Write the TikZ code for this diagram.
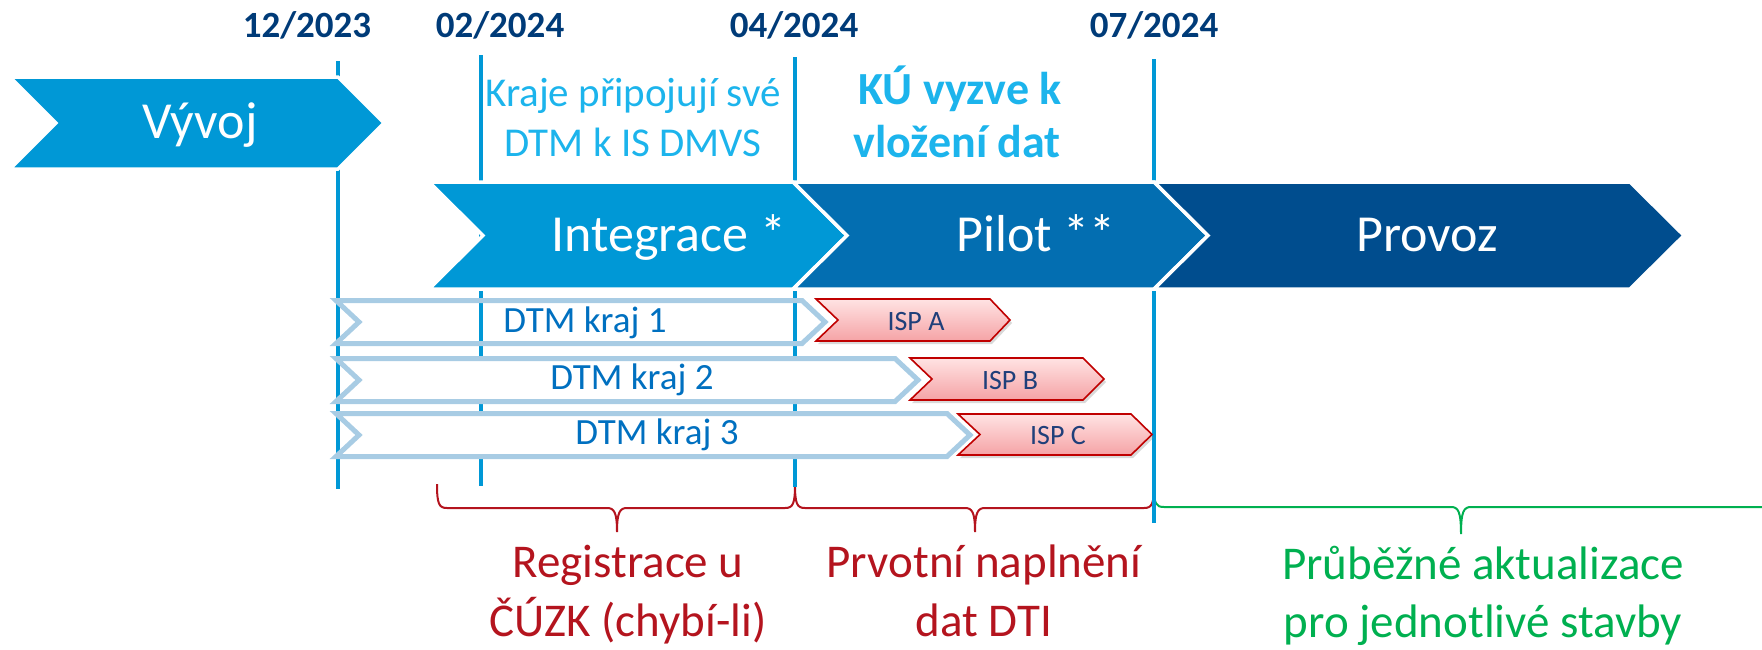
\documentclass[tikz,border=0pt]{standalone}
\usepackage{fontspec}
\setmainfont{Carlito}
\usetikzlibrary{shadows}

\definecolor{devblue}{HTML}{0098D6}
\definecolor{pilotblue}{HTML}{036EB1}
\definecolor{provblue}{HTML}{004D8E}
\definecolor{datenavy}{HTML}{003B78}
\definecolor{noteblue}{HTML}{1CB4EC}
\definecolor{dtmtext}{HTML}{0070C0}
\definecolor{dtmline}{HTML}{A8CCE4}
\definecolor{ispred}{HTML}{C00000}
\definecolor{isptop}{HTML}{FFE3E3}
\definecolor{ispbot}{HTML}{F5A3A6}
\definecolor{isptext}{HTML}{1F3F7A}
\definecolor{bracered}{HTML}{B4141E}
\definecolor{bracegreen}{HTML}{00B050}

\begin{document}
\begin{tikzpicture}[x=1pt,y=-1pt,
  milestone/.style={draw=devblue, line width=4pt},
  phase/.style={draw=white, line width=3.5pt, line join=miter},
  phasetext/.style={text=white, font=\fontsize{52}{62}\selectfont, anchor=base, inner sep=0pt},
  datelabel/.style={text=datenavy, font=\bfseries\fontsize{37}{44}\selectfont, anchor=base, inner sep=0pt},
  notetext/.style={text=noteblue, font=\fontsize{41}{50}\selectfont, anchor=base, inner sep=0pt},
  notebold/.style={text=noteblue, font=\bfseries\fontsize{46}{55}\selectfont, anchor=base, inner sep=0pt},
  dtmbox/.style={draw=dtmline, line width=5pt, line join=miter},
  dtmlabel/.style={text=dtmtext, font=\fontsize{37}{44}\selectfont, anchor=base, inner sep=0pt},
  ispbox/.style={draw=ispred, line width=1.6pt, line join=miter, top color=isptop, bottom color=ispbot,
    drop shadow={opacity=0.3, shadow xshift=2pt, shadow yshift=-3pt}},
  isplabel/.style={text=isptext, font=\fontsize{28}{34}\selectfont, anchor=base, inner sep=0pt},
  bracepath/.style={line width=2pt},
  redtext/.style={text=bracered, font=\fontsize{47}{58}\selectfont, anchor=base, inner sep=0pt},
  greentext/.style={text=bracegreen, font=\fontsize{47}{58}\selectfont, anchor=base, inner sep=0pt}
]
\useasboundingbox (0,0) rectangle (1762,649);

% ---- braces under the timeline ----
\draw[bracepath, bracered] (437,484) .. controls (437,504) and (439,508) .. (447,508) -- (607,508)
  .. controls (614,508) and (617,512) .. (617,532) .. controls (617,512) and (620,508) .. (627,508)
  -- (785,508) .. controls (793,508) and (795,504) .. (795,484);
\draw[bracepath, bracered] (795,484) .. controls (795,504) and (797,508) .. (805,508) -- (965,508)
  .. controls (972,508) and (975,512) .. (975,532) .. controls (975,512) and (978,508) .. (985,508)
  -- (1144,508) .. controls (1152,508) and (1154,504) .. (1154,484);
\draw[bracepath, bracegreen] (1154,487) .. controls (1154,504) and (1156,507) .. (1164,507) -- (1451,507)
  .. controls (1458,507) and (1461,511) .. (1461,534) .. controls (1461,511) and (1464,507) .. (1471,507)
  -- (1762,507);

% ---- milestone lines ----
\coordinate (m1a) at (338,61);  \coordinate (m1b) at (338,489);
\coordinate (m2a) at (481,55);  \coordinate (m2b) at (481,486);
\coordinate (m3a) at (795,57);  \coordinate (m3b) at (795,487);
\coordinate (m4a) at (1154,59); \coordinate (m4b) at (1154,523);
\draw[milestone] (m1a) -- (m1b);
\draw[milestone] (m2a) -- (m2b);
\draw[milestone] (m3a) -- (m3b);
\draw[milestone] (m4a) -- (m4b);

% ---- date labels ----
\node[datelabel] (d1) at (307,37) {12/2023};
\node[datelabel] (d2) at (500,37) {02/2024};
\node[datelabel] (d3) at (794,37) {04/2024};
\node[datelabel] (d4) at (1154,37) {07/2024};

% ---- phase chevrons ----
\path[phase, fill=devblue] (10,77) -- (338,77) -- (384,123) -- (338,169) -- (10,169) -- (56,123) -- cycle;
\path[phase, fill=devblue] (429,182) -- (793,182) -- (847,235.5) -- (793,289) -- (429,289) -- (483,235.5) -- cycle;
\path[phase, fill=pilotblue] (793,182) -- (1154,182) -- (1208,235.5) -- (1154,289) -- (793,289) -- (847,235.5) -- cycle;
\path[phase, fill=provblue] (1154,182) -- (1630,182) -- (1684,235.5) -- (1630,289) -- (1154,289) -- (1208,235.5) -- cycle;

\node[phasetext] (vyvoj) at (200,138) {Vývoj};
\node[phasetext] (integrace) at (669,251) {Integrace *};
\node[phasetext] (pilot) at (1036,251) {Pilot **};
\node[phasetext] (provoz) at (1427,251) {Provoz};

% ---- notes above the phases ----
\node[notetext] (kraje1) at (633,106) {Kraje připojují své};
\node[notetext] (kraje2) at (633,156) {DTM k IS DMVS};
\node[notebold] (ku1) at (960,104) {KÚ vyzve k};
\node[notebold] (ku2) at (957,157) {vložení dat};

% ---- regional DTM bars ----
\path[dtmbox] (336,300.5) -- (802,300.5) -- (825,322) -- (802,343.5) -- (336,343.5) -- (359,322) -- cycle;
\path[dtmbox, fill=white] (336,358.5) -- (895,358.5) -- (918,380) -- (895,401.5) -- (336,401.5) -- (359,380) -- cycle;
\path[dtmbox, fill=white] (336,413.5) -- (947,413.5) -- (970,435) -- (947,456.5) -- (336,456.5) -- (359,435) -- cycle;
\node[dtmlabel] (dtm1) at (585,332) {DTM kraj 1};
\node[dtmlabel] (dtm2) at (632,389) {DTM kraj 2};
\node[dtmlabel] (dtm3) at (657,444) {DTM kraj 3};

% ---- ISP chevrons ----
\path[ispbox] (816,299) -- (990,299) -- (1010,320) -- (990,341) -- (816,341) -- (838,320) -- cycle;
\path[ispbox] (910,358) -- (1083,358) -- (1104,379) -- (1083,400) -- (910,400) -- (932,379) -- cycle;
\path[ispbox] (958,414) -- (1131,414) -- (1152,434.5) -- (1131,455) -- (958,455) -- (980,434.5) -- cycle;
\node[isplabel] (ispa) at (916,330) {ISP A};
\node[isplabel] (ispb) at (1010,389) {ISP B};
\node[isplabel] (ispc) at (1058,444) {ISP C};

% ---- texts under the braces ----
\node[redtext] (reg1) at (628,577) {Registrace u};
\node[redtext] (reg2) at (628,636) {ČÚZK (chybí-li)};
\node[redtext] (prv1) at (984,577) {Prvotní naplnění};
\node[redtext] (prv2) at (984,636) {dat DTI};
\node[greentext] (prub1) at (1483,579) {Průběžné aktualizace};
\node[greentext] (prub2) at (1483,637) {pro jednotlivé stavby};
\end{tikzpicture}
\end{document}
